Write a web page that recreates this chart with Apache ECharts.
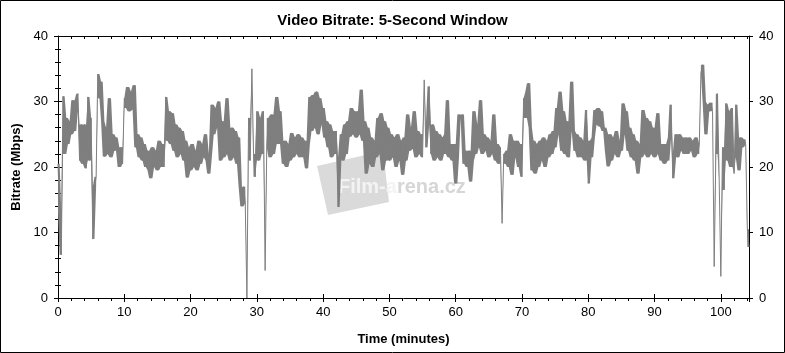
<!DOCTYPE html>
<html><head><meta charset="utf-8">
<script src="https://cdn.jsdelivr.net/npm/echarts@6/dist/echarts.min.js"></script>
<style>html,body{margin:0;padding:0;background:#fff}#c{width:785px;height:353px}</style>
</head><body><div id="c"></div><script>
const chartTitle = 'Video Bitrate: 5-Second Window';
const xAxisName = 'Time (minutes)';
const yAxisName = 'Bitrate (Mbps)';
const watermarkA = 'Film-a';
const watermarkB = 'rena.cz';
const sampleStepMin = 0.25;
const xMin = 0, xMax = 104.25, xMajor = 10, xMinor = 2;
const yMin = 0, yMax = 40, yMajor = 10, yMinor = 2;
// bitrate (Mbps), one value every 0.25 min
const bitrateMbps = [
20.5,13,6.6,30.8, 22,27.5,23.5,27, 25,30.2,25.5,28.5, 31.2,21,26.5,20.5, 26.5,19.8,30.7,21,
27.5,9,17,18.5, 34.2,30.5,33,27, 21.6,26,22,30.5, 21.5,25,22.5,24.5, 22.5,20,23,20.5,
30.5,29,32.2,28.5, 31.5,28.8,32.5,23, 25,21.5,24.5,21, 23.5,20,22.5,19.5, 18.3,23,20,22.5,
19.5,24,20,23.5, 20,30.7,24,28.5, 23.5,28.2,22.5,26.5, 21.5,26,22,25.5, 21,24,18.4,23,
19.5,23.5,20,22.5, 19.5,24,20.5,23.5, 21.5,25,21,19, 22,29.5,25,29, 26,30,21,27,
21.5,25,30.5,22, 21,26,21.5,25.5, 20.5,24.5,17,14, 17,14.5,0,27.5, 21,35,22,18.5,
28.5,21,27.5,22, 28.5,4.2,23,27.5, 21.5,28,22,26.5, 30.7,23.5,28.5,24, 20.5,24,20,23.5,
21,25.2,21.5,24.5, 22,25,21.5,24.5, 21.5,24,19.8,23.5, 30.7,25.5,31,26, 31.5,25,30.5,26.5,
29,24.5,27,23, 26.5,21.5,25.5,22, 25.5,13.9,21.5,25, 21,26.5,22,27, 24.6,29,25,28.5,
24.5,28.5,25,31.8, 24,27,19,26, 20.5,24.5,20,24, 21.5,27.5,22,28.2, 19.5,27,21,26,
21,25,21.5,24.5, 20,25,21,24, 18.8,24.5,21,28, 22.5,26,22.8,28.5, 21.5,25.5,22,25,
21.5,33.3,23,26.5, 32.3,22,26.5,21, 25.5,21.5,25,21, 24.5,22,25,30.2, 21.5,23.5,21,23.5,
17.5,21.5,28,27.5, 28,20.5,22.5,20, 22.5,17.8,21,28.5, 22,26.5,23,30.2, 22,25,22.5,24.5,
21.5,24,22,28, 21,23.5,20.5,23, 11.4,22,20.5,22.5, 20,25,18.8,24, 21.5,24,20,23.5,
18.5,30.5,27.5,31.5, 32.8,26,19.5,24, 19,23.5,20,24, 21,24.5,20,24, 21.5,25,22,25.5,
23,29,25,31.5, 22.5,28.5,22,27, 21.5,27,33,25.5, 22.5,25,21.5,24.5, 21.5,24,21,28.7,
17.5,24,21.5,24.5, 28.7,26.5,29,26.2, 28.5,25.5,26,22.5, 20.1,25,21,24.5, 22,25.5,21.5,24,
22.5,29.7,25,28.5, 22.5,26,21.5,25, 21,24,19,23.5, 21.5,28.7,22,27.5, 21.5,27,22,26,
21.5,25.5,28.2,22, 21,23.5,20.5,23.5, 21,24.5,29.5,18.3, 22,25,21.5,25, 22.5,24.5,22,24.5,
22,24.5,22.5,24, 21.5,24.5,22,23.5, 34.3,35.6,30,25, 29.5,28.5,29.8,28.5, 4.8,22,31.2,18,
3.3,23,16.5,29.7, 21,28.5,20,29, 19,29.5,21.5,19.5, 24.5,23,24.2,23.5, 10.5,7.8
];
// jumps larger than this between neighbouring samples are shown only as the thin trace
const bandJumpLimit = 10;

const FONT = "'Liberation Sans',Arial,sans-serif";
const INK = '#000';
const TRACE = '#7f7f7f';
const gridRect = {left: 58, right: 36, top: 36, bottom: 55};
const seriesData = bitrateMbps.map((v, i) => [i * sampleStepMin, v]);
// the dense oscillation between neighbouring samples is shown as a filled band: [t, low, high]
const bandData = bitrateMbps.map((v, i) => {
  let lo = v, hi = v;
  [i - 1, i + 1].forEach(j => {
    if (j >= 0 && j < bitrateMbps.length && Math.abs(bitrateMbps[j] - v) < bandJumpLimit) {
      lo = Math.min(lo, bitrateMbps[j]); hi = Math.max(hi, bitrateMbps[j]);
    }
  });
  return [i * sampleStepMin, lo, hi];
});

function xAx(grid, pos, interval, opts) {
  return Object.assign({
    type: 'value', gridIndex: grid, position: pos, min: xMin, max: xMax, interval: interval,
    axisLine: {show: false, lineStyle: {color: INK, width: 1}},
    axisTick: {show: true, inside: false, length: 4, lineStyle: {color: INK, width: 1}},
    axisLabel: {show: false},
    splitLine: {show: false}
  }, opts);
}
function yAx(grid, pos, interval, opts) {
  return Object.assign({
    type: 'value', gridIndex: grid, position: pos, min: yMin, max: yMax, interval: interval,
    axisLine: {show: false, lineStyle: {color: INK, width: 1}},
    axisTick: {show: true, inside: false, length: 4, lineStyle: {color: INK, width: 1}},
    axisLabel: {show: false},
    splitLine: {show: false}
  }, opts);
}
const labelStyle = {show: true, color: INK, fontFamily: FONT, fontSize: 13};

const chart = echarts.init(document.getElementById('c'), null, {renderer: 'canvas'});
chart.setOption({
  animation: false,
  backgroundColor: '#fff',
  title: {text: chartTitle, left: 'center', top: 8,
    textStyle: {fontFamily: FONT, fontSize: 15, fontWeight: 'bold', color: INK}},
  grid: [Object.assign({}, gridRect), Object.assign({}, gridRect), Object.assign({}, gridRect)],
  xAxis: [
    xAx(0, 'bottom', xMajor, {axisLine: {show: true, onZero: false, lineStyle: {color: INK}},
      axisLabel: Object.assign({}, labelStyle, {margin: 8, showMaxLabel: false}),
      name: xAxisName, nameLocation: 'middle', nameGap: 35,
      nameTextStyle: {fontFamily: FONT, fontSize: 13, fontWeight: 'bold', color: INK}}),
    xAx(0, 'top', xMinor, {axisLine: {show: true, onZero: false, lineStyle: {color: INK}},
      axisTick: {show: true, inside: true, length: 3, lineStyle: {color: INK}}}),
    xAx(1, 'bottom', xMajor, {axisTick: {show: true, inside: true, length: 4, lineStyle: {color: INK}}}),
    xAx(1, 'top', xMajor, {axisTick: {show: true, inside: true, length: 4, lineStyle: {color: INK}}}),
    xAx(2, 'bottom', xMinor, {axisTick: {show: true, inside: false, length: 3, lineStyle: {color: INK}}}),
    xAx(2, 'top', xMajor, {show: false})
  ],
  yAxis: [
    yAx(0, 'left', yMajor, {axisLine: {show: true, onZero: false, lineStyle: {color: INK}},
      axisLabel: Object.assign({}, labelStyle, {margin: 10}),
      name: yAxisName, nameLocation: 'middle', nameGap: 32, nameRotate: 90,
      nameTextStyle: {fontFamily: FONT, fontSize: 13, fontWeight: 'bold', color: INK}}),
    yAx(0, 'right', yMajor, {axisLine: {show: true, onZero: false, lineStyle: {color: INK}},
      axisLabel: Object.assign({}, labelStyle, {margin: 10})}),
    yAx(1, 'left', yMajor, {axisTick: {show: true, inside: true, length: 4, lineStyle: {color: INK}}}),
    yAx(1, 'right', yMajor, {axisTick: {show: true, inside: true, length: 4, lineStyle: {color: INK}}}),
    yAx(2, 'left', yMinor, {axisTick: {show: true, inside: false, length: 3, lineStyle: {color: INK}}}),
    yAx(2, 'right', yMinor, {axisTick: {show: true, inside: false, length: 3, lineStyle: {color: INK}}})
  ],
  graphic: [
    {type: 'polygon', z: 0, silent: true,
      shape: {points: [[317, 166], [383, 151], [389, 202], [328, 215]]},
      style: {fill: '#dadada'}},
    {type: 'text', z: 0, silent: true, left: 338, top: 177,
      style: {text: '{a|' + watermarkA + '}{b|' + watermarkB + '}',
        rich: {a: {fill: '#f3f3f3', fontSize: 20, fontWeight: 'bold', fontFamily: FONT},
               b: {fill: '#d6d6d6', fontSize: 20, fontWeight: 'bold', fontFamily: FONT}}}},
    {type: 'rect', z: 100, silent: true, shape: {x: 0.5, y: 0.5, width: 784, height: 352},
      style: {fill: 'none', stroke: '#000', lineWidth: 1}}
  ],
  series: [{
    type: 'custom', xAxisIndex: 0, yAxisIndex: 0, data: bandData, z: 4, silent: true,
    encode: {x: 0, y: [1, 2]},
    renderItem: function (params, api) {
      if (params.dataIndex !== 0) return null;
      const upper = bandData.map(p => api.coord([p[0], p[2]]));
      const lower = bandData.slice().reverse().map(p => api.coord([p[0], p[1]]));
      return {type: 'polygon', shape: {points: upper.concat(lower)}, style: {fill: TRACE}};
    }
  }, {
    type: 'line', xAxisIndex: 0, yAxisIndex: 0, data: seriesData,
    showSymbol: false, symbol: 'none', sampling: null,
    lineStyle: {color: TRACE, width: 1}, z: 5
  }]
});
</script></body></html>
